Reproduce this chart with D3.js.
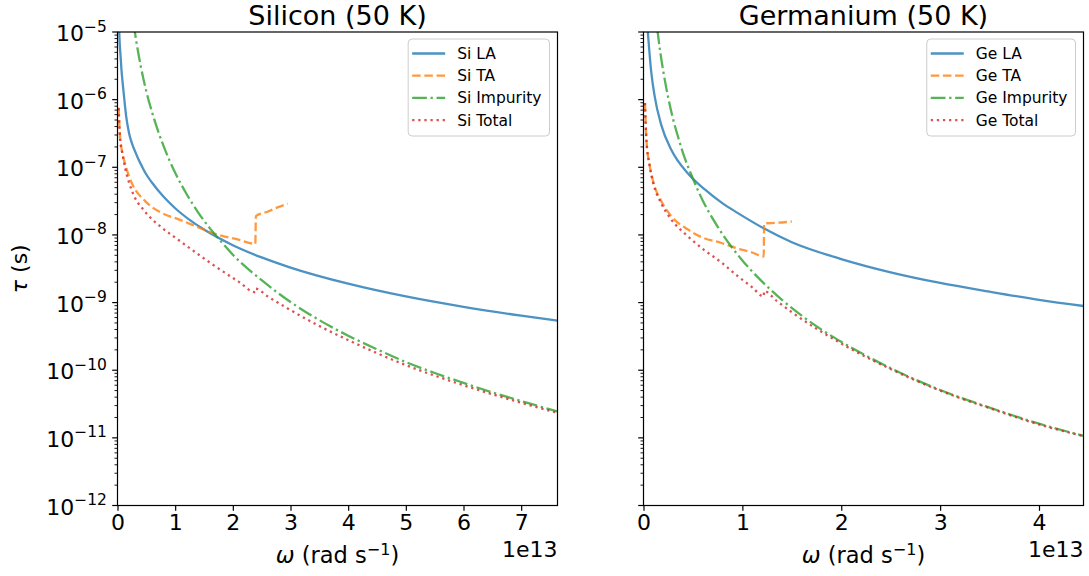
<!DOCTYPE html>
<html>
<head>
<meta charset="utf-8">
<script src="https://cdn.jsdelivr.net/npm/d3@7"></script>
<style>
  body { margin: 0; background: #fff; }
  svg { font-family: "DejaVu Sans", sans-serif; }
</style>
</head>
<body>
<svg id="chart" width="1089" height="576"></svg>
<script>
// omega in units of 1e13 rad/s, tau in s
const SI_LA = [[0.025, 1.6e-5], [0.031, 9.7e-6], [0.052, 4.57e-6], [0.069, 2.75e-6], [0.088, 1.82e-6],
  [0.107, 1.26e-6], [0.13, 8.1e-7], [0.1525, 5.5e-7], [0.177, 4.07e-7], [0.2045, 3.09e-7],
  [0.234, 2.5e-7], [0.269, 2.04e-7], [0.312, 1.66e-7], [0.367, 1.29e-7], [0.425, 1.03e-7],
  [0.482, 8.3e-8], [0.6, 5.9e-8], [0.8, 3.66e-8], [1.0, 2.48e-8], [1.25, 1.67e-8], [1.5, 1.2e-8],
  [2.0, 7.05e-9], [2.5, 4.65e-9], [3.0, 3.29e-9], [4.0, 1.9e-9], [5.0, 1.23e-9], [6.0, 8.64e-10],
  [7.0, 6.4e-10], [7.63, 5.4e-10]];
const SI_TA = [[0.02, 7.6e-7], [0.04, 3.2e-7], [0.07, 1.9e-7], [0.135, 1.1e-7], [0.25, 5.8e-8],
  [0.48, 3.16e-8], [0.77, 2.1e-8], [1.06, 1.7e-8], [1.35, 1.35e-8], [1.64, 1.07e-8], [2.10, 8.5e-9],
  [2.39, 7.4e-9], [2.40, 1.9e-8], [2.6, 2.2e-8], [2.8, 2.6e-8], [2.95, 2.9e-8]];
const SI_IMP = [[0.28, 1.35e-5], [0.3, 1.02e-5], [0.35, 5.5e-6], [0.4, 3.24e-6], [0.5, 1.32e-6],
  [0.6, 6.5e-7], [0.7, 3.5e-7], [0.8, 2.05e-7], [1.0, 8.3e-8], [1.2, 4.0e-8], [1.4, 2.14e-8],
  [1.6, 1.26e-8], [1.8, 7.9e-9], [2.0, 5.1e-9], [2.5, 2.14e-9], [3.0, 1.02e-9], [3.5, 5.5e-10],
  [4.0, 3.24e-10], [4.5, 2.04e-10], [5.0, 1.32e-10], [5.5, 9.1e-11], [6.0, 6.5e-11], [6.5, 4.7e-11],
  [7.0, 3.5e-11], [7.63, 2.45e-11]];
const SI_TOT = [[0.02, 7.5e-7], [0.03, 4.5e-7], [0.05, 2.37e-7], [0.08, 1.7e-7], [0.135, 9.6e-8],
  [0.25, 4.5e-8], [0.48, 2.2e-8], [0.77, 1.28e-8], [1.06, 8.4e-9], [1.35, 5.55e-9], [1.64, 3.7e-9],
  [2.10, 2.04e-9], [2.39, 1.42e-9], [2.40, 1.6e-9], [2.6, 1.24e-9], [2.95, 8.2e-10], [3.5, 4.5e-10],
  [4.0, 2.79e-10], [5.0, 1.19e-10], [6.0, 6.0e-11], [7.0, 3.3e-11], [7.63, 2.34e-11]];

const GE_LA = [[0.038, 1.3e-5], [0.045, 9.5e-6], [0.079, 2.5e-6], [0.113, 1.12e-6], [0.18, 4.2e-7],
  [0.281, 1.82e-7], [0.45, 8.1e-8], [0.62, 4.7e-8], [0.79, 3.0e-8], [0.955, 2.1e-8], [1.225, 1.23e-8],
  [1.5, 7.8e-9], [2.0, 4.4e-9], [2.5, 2.8e-9], [3.0, 1.95e-9], [3.5, 1.45e-9], [4.0, 1.1e-9],
  [4.45, 8.9e-10]];
const GE_TA = [[0.015, 8.9e-7], [0.03, 2.5e-7], [0.06, 1.12e-7], [0.1, 6.0e-8], [0.18, 3.16e-8],
  [0.28, 1.9e-8], [0.45, 1.2e-8], [0.6, 9.1e-9], [0.79, 7.6e-9], [0.95, 6.3e-9], [1.1, 5.5e-9],
  [1.216, 4.8e-9], [1.22, 1.48e-8], [1.35, 1.51e-8], [1.5, 1.58e-8]];
const GE_IMP = [[0.14, 1.1e-5], [0.15, 8.3e-6], [0.17, 5.0e-6], [0.2, 2.63e-6], [0.25, 1.07e-6],
  [0.3, 5.1e-7], [0.35, 2.8e-7], [0.4, 1.62e-7], [0.5, 6.8e-8], [0.6, 3.2e-8], [0.7, 1.74e-8],
  [0.8, 1.02e-8], [1.0, 4.2e-9], [1.2, 2.04e-9], [1.4, 1.1e-9], [1.6, 6.4e-10], [1.8, 3.98e-10],
  [2.0, 2.63e-10], [2.5, 1.07e-10], [3.0, 5.1e-11], [3.5, 2.8e-11], [4.0, 1.62e-11], [4.45, 1.07e-11]];
const GE_TOT = [[0.015, 8.9e-7], [0.03, 2.45e-7], [0.06, 1.1e-7], [0.1, 5.75e-8], [0.18, 2.92e-8],
  [0.28, 1.7e-8], [0.45, 9.5e-9], [0.6, 6.2e-9], [0.79, 3.9e-9], [0.95, 2.48e-9], [1.1, 1.68e-9],
  [1.216, 1.23e-9], [1.22, 1.48e-9], [1.35, 1.05e-9], [1.5, 7.2e-10], [2.0, 2.48e-10], [2.5, 1.04e-10],
  [3.0, 5.0e-11], [3.5, 2.75e-11], [4.0, 1.58e-11], [4.45, 1.06e-11]];

const TAU_DOMAIN = [1e-12, 1e-5];
const TAU_TICKS = [1e-12, 1e-11, 1e-10, 1e-9, 1e-8, 1e-7, 1e-6, 1e-5];
const SI_W_MAX = 7.63;
const GE_W_MAX = 4.45;
const SI_W_TICKS = [0, 1, 2, 3, 4, 5, 6, 7];
const GE_W_TICKS = [0, 1, 2, 3, 4];

const LW = 2.3;
const STYLES = {
  LA: { color: '#1f77b4', dash: null },
  TA: { color: '#ff7f0e', dash: [3.7 * LW, 1.6 * LW] },
  Impurity: { color: '#2ca02c', dash: [6.4 * LW, 1.6 * LW, 1 * LW, 1.6 * LW] },
  Total: { color: '#d62728', dash: [1 * LW, 1.65 * LW] },
};

const TOP = 32, BOTTOM = 505.5;
const TICK_FS = 22;
const svg = d3.select('#chart');

function drawPanel(opts) {
  const { left, right, title, wMax, wTicks, prefix, series, showYLabels, id } = opts;
  const x = d3.scaleLinear().domain([0, wMax]).range([left, right]);
  const y = d3.scaleLog().domain(TAU_DOMAIN).range([BOTTOM, TOP]);
  const g = svg.append('g');

  g.append('clipPath').attr('id', 'clip' + id)
    .append('rect').attr('x', left).attr('y', TOP)
    .attr('width', right - left).attr('height', BOTTOM - TOP);

  // curves
  const line = d3.line()
    .x(d => x(d[0])).y(d => y(d[1]))
    .curve(d3.curveMonotoneX);
  const curves = g.append('g').attr('clip-path', `url(#clip${id})`);
  series.forEach(s => {
    const st = STYLES[s.key];
    curves.append('path')
      .datum(s.data)
      .attr('d', line)
      .attr('fill', 'none')
      .attr('stroke', st.color)
      .attr('stroke-opacity', 0.8)
      .attr('stroke-width', LW)
      .attr('stroke-dasharray', st.dash ? st.dash.join(',') : null);
  });

  // x axis
  const xAxis = d3.axisBottom(x).tickValues(wTicks).tickSize(5.3).tickPadding(4).tickFormat(d3.format('d'));
  const gx = g.append('g').attr('transform', `translate(0,${BOTTOM})`).call(xAxis);
  gx.select('.domain').remove();
  gx.selectAll('line').attr('stroke', '#000').attr('stroke-width', 1.2);
  gx.selectAll('text').attr('font-size', TICK_FS).attr('fill', '#000').attr('font-family', 'DejaVu Sans');

  // y axis: minor and major ticks
  const minor = y.ticks().filter(t => !TAU_TICKS.some(m => Math.abs(m - t) / m < 1e-6));
  g.append('g').selectAll('line').data(minor).join('line')
    .attr('x1', left - 3).attr('x2', left)
    .attr('y1', d => y(d)).attr('y2', d => y(d))
    .attr('stroke', '#000').attr('stroke-width', 0.9);
  g.append('g').selectAll('line').data(TAU_TICKS).join('line')
    .attr('x1', left - 5.3).attr('x2', left)
    .attr('y1', d => y(d)).attr('y2', d => y(d))
    .attr('stroke', '#000').attr('stroke-width', 1.2);

  if (showYLabels) {
    const lab = g.append('g').selectAll('text').data(TAU_TICKS).join('text')
      .attr('x', left - 10.6).attr('y', d => y(d) + 9)
      .attr('text-anchor', 'end').attr('font-size', TICK_FS).attr('fill', '#000');
    lab.append('tspan').text('10');
    lab.append('tspan').attr('dy', -9.5).attr('font-size', 15.5)
      .text(d => '\u2212' + Math.round(-Math.log10(d)));
  }

  // frame
  g.append('rect').attr('x', left).attr('y', TOP)
    .attr('width', right - left).attr('height', BOTTOM - TOP)
    .attr('fill', 'none').attr('stroke', '#000').attr('stroke-width', 1.2);

  // title
  g.append('text').attr('x', (left + right) / 2).attr('y', 25)
    .attr('text-anchor', 'middle').attr('font-size', 27).attr('fill', '#000')
    .text(title);

  // x label
  const xl = g.append('text').attr('x', (left + right) / 2).attr('y', 563)
    .attr('text-anchor', 'middle').attr('font-size', 22.5).attr('fill', '#000');
  xl.append('tspan').attr('font-style', 'italic').text('\u03c9');
  xl.append('tspan').text(' (rad s');
  xl.append('tspan').attr('dy', -8.5).attr('font-size', 16).text('\u22121');
  xl.append('tspan').attr('dy', 8.5).text(')');

  // offset text
  g.append('text').attr('x', right).attr('y', 557)
    .attr('text-anchor', 'end').attr('font-size', TICK_FS).attr('fill', '#000')
    .text('1e13');

  // legend
  const fs = 15.5;
  const leg = g.append('g');
  const box = leg.append('rect');
  const rows = series.map(s => {
    const row = leg.append('g');
    const st = STYLES[s.key];
    row.append('line').attr('x1', 0).attr('x2', 33).attr('y1', 0).attr('y2', 0)
      .attr('stroke', st.color).attr('stroke-opacity', 0.8).attr('stroke-width', LW)
      .attr('stroke-dasharray', st.dash ? st.dash.join(',') : null);
    const t = row.append('text').attr('x', 45).attr('y', 0).attr('dy', '0.36em')
      .attr('font-size', fs).attr('fill', '#000').text(prefix + ' ' + s.key);
    return { row, t };
  });
  const textW = d3.max(rows, r => r.t.node().getComputedTextLength());
  const boxW = 4 + 45 + textW + 8;
  const boxH = 97;
  const bx = right - 8 - boxW, by = TOP + 7;
  box.attr('x', bx).attr('y', by).attr('width', boxW).attr('height', boxH)
    .attr('rx', 4).attr('fill', '#fff').attr('fill-opacity', 0.8)
    .attr('stroke', '#cccccc').attr('stroke-width', 1);
  rows.forEach((r, i) => {
    r.row.attr('transform', `translate(${bx + 4},${by + 14.5 + i * 22.2})`);
  });

  return { x, y };
}

drawPanel({
  id: 'si', left: 117.5, right: 557.5, title: 'Silicon (50 K)', wMax: SI_W_MAX, wTicks: SI_W_TICKS,
  prefix: 'Si', showYLabels: true,
  series: [{ key: 'LA', data: SI_LA }, { key: 'TA', data: SI_TA },
           { key: 'Impurity', data: SI_IMP }, { key: 'Total', data: SI_TOT }],
});
drawPanel({
  id: 'ge', left: 643.5, right: 1083.5, title: 'Germanium (50 K)', wMax: GE_W_MAX, wTicks: GE_W_TICKS,
  prefix: 'Ge', showYLabels: false,
  series: [{ key: 'LA', data: GE_LA }, { key: 'TA', data: GE_TA },
           { key: 'Impurity', data: GE_IMP }, { key: 'Total', data: GE_TOT }],
});

// y label
const yl = svg.append('text')
  .attr('transform', `translate(27,${(TOP + BOTTOM) / 2}) rotate(-90)`)
  .attr('text-anchor', 'middle').attr('font-size', 22).attr('fill', '#000');
yl.append('tspan').attr('font-style', 'italic').text('\u03c4');
yl.append('tspan').text(' (s)');
</script>
</body>
</html>
